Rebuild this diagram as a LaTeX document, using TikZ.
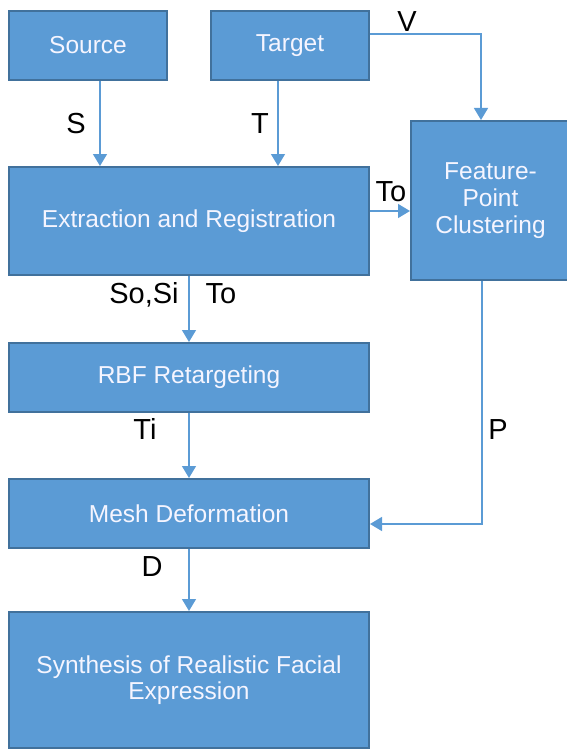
\documentclass[tikz,border=0pt]{standalone}
\usepackage{fontspec}
\setmainfont{Liberation Sans}
\usetikzlibrary{arrows.meta}
\definecolor{boxfill}{HTML}{5B9BD5}
\definecolor{boxedge}{HTML}{41719C}
\definecolor{linec}{HTML}{5B9BD5}
\tikzset{
  box/.style={draw=boxedge, line width=2pt, fill=boxfill, text=white!96!blue, inner sep=0pt,
    font=\fontsize{24.5}{27}\selectfont, align=center},
  arr/.style={draw=linec, line width=1.5pt, -{Triangle[width=14pt,length=12pt]}},
  lbl/.style={anchor=base, inner sep=0pt, font=\fontsize{29}{31}\selectfont, text=black}
}
\begin{document}
\begin{tikzpicture}[x=1pt,y=-1pt]
\useasboundingbox (0,0) rectangle (566,749);
\node[box, minimum width=158pt, minimum height=69pt] (src) at (88,45.5) {Source};
\node[box, minimum width=158pt, minimum height=69pt] (tgt) at (290,45.5) {Target};
\node[box, minimum width=360pt, minimum height=108pt] (ext) at (189,221) {Extraction and Registration};
\node[box, minimum width=159pt, minimum height=159pt] (fpc) at (490.5,200.5) {Feature-\\Point\\Clustering};
\node[box, minimum width=360pt, minimum height=69pt] (rbf) at (189,377.5) {RBF Retargeting};
\node[box, minimum width=360pt, minimum height=69pt] (mesh) at (189,513.5) {Mesh Deformation};
\node[box, minimum width=360pt, minimum height=136pt, font=\fontsize{24.5}{26}\selectfont] (syn) at (189,680) {Synthesis of Realistic Facial\\Expression};

\draw[arr] ([xshift=12pt]src.south) -- ([xshift=12pt]src.south |- ext.north);
\draw[arr] ([xshift=-12pt]tgt.south) -- ([xshift=-12pt]tgt.south |- ext.north);
\draw[arr] ([yshift=11.5pt]tgt.east) -| ([xshift=-9.5pt]fpc.north);
\draw[arr] ([yshift=10pt]ext.east) -- ([yshift=10pt]ext.east -| fpc.west);
\draw[arr] (ext.south) -- (rbf.north);
\draw[arr] (rbf.south) -- (mesh.north);
\draw[arr] (mesh.south) -- (syn.north);
\draw[arr] ([xshift=-8.5pt]fpc.south) |- ([yshift=-10.5pt]mesh.east);

\node[lbl] (lS) at (76,133) {S};
\node[lbl] (lT) at (260,133) {T};
\node[lbl] (lV) at (407,32) {V};
\node[lbl] (lTo) at (391,201) {To};
\node[lbl] (lSoSi) at (144,303) {So,Si};
\node[lbl] (lTo2) at (221,303) {To};
\node[lbl] (lTi) at (145,439) {Ti};
\node[lbl] (lP) at (498,439) {P};
\node[lbl] (lD) at (152,576) {D};
\end{tikzpicture}
\end{document}
